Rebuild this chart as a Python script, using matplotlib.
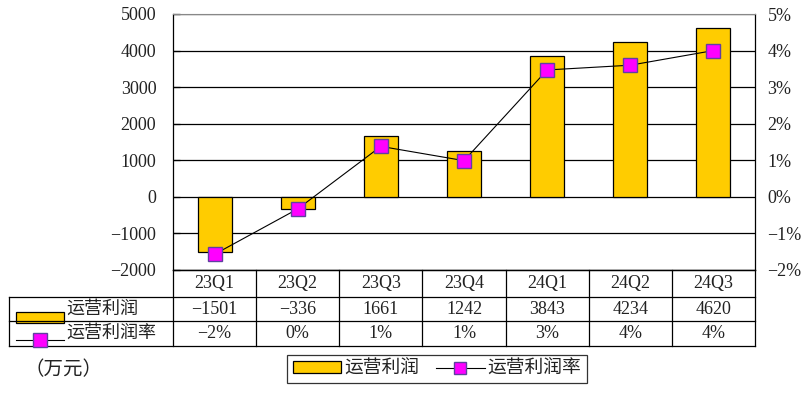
import matplotlib
matplotlib.use("Agg")
import matplotlib.pyplot as plt
from matplotlib.lines import Line2D
from matplotlib.patches import Rectangle
from matplotlib.ticker import FuncFormatter, MultipleLocator
import numpy as np

plt.rcParams['font.family'] = ['Liberation Serif', 'Noto Sans CJK SC', 'DejaVu Sans']

categories = ['23Q1', '23Q2', '23Q3', '23Q4', '24Q1', '24Q2', '24Q3']
profit = [-1501, -336, 1661, 1242, 3843, 4234, 4620]          # 万元
margin = [-1.57, -0.33, 1.38, 0.99, 3.47, 3.60, 4.00]          # %
series_names = ['运营利润', '运营利润率']
unit_label = '（万元）'

W, H = 811, 394
fig = plt.figure(figsize=(W / 100, H / 100), dpi=100)

def fx(px):
    return px / W

def fy(py):
    return 1 - py / H

L, R, T, B = 173, 755, 14, 270
ax = fig.add_axes([fx(L), fy(B), fx(R) - fx(L), fy(T) - fy(B)])
x = np.arange(len(categories))
bar_col = '#FFCC00'
mk_face = '#FF00FF'
mk_edge = '#6040A0'
ax.bar(x, profit, width=0.41, color=bar_col, edgecolor='black', linewidth=0.9, zorder=3)
ax.set_xlim(-0.5, len(categories) - 0.5)
ax.set_ylim(-2000, 5000)
ax.yaxis.set_major_locator(MultipleLocator(1000))
ax.yaxis.set_major_formatter(FuncFormatter(lambda v, p: f'{int(v)}'.replace('-', '\u2212')))
ax.grid(axis='y', color='black', linewidth=0.9, zorder=0)
ax.set_xticks([])
fs = 13
tc = '#222222'
ax.tick_params(axis='y', direction='in', length=5, width=0.9, pad=12, labelsize=fs, labelcolor=tc)
for s in ['left', 'right', 'bottom']:
    ax.spines[s].set_color('black')
    ax.spines[s].set_linewidth(0.9)
ax.spines['top'].set_color('#888888')

ax2 = ax.twinx()
ax2.plot(x, margin, color='black', linewidth=0.8, marker='s', markersize=10,
         markerfacecolor=mk_face, markeredgecolor=mk_edge, markeredgewidth=1.0, zorder=5)
ax2.set_ylim(-2, 5)
ax2.yaxis.set_major_locator(MultipleLocator(1))
ax2.yaxis.set_major_formatter(FuncFormatter(lambda v, p: f'{int(round(v))}%'.replace('-', '\u2212')))
ax2.tick_params(axis='y', length=0, pad=9, labelsize=fs, labelcolor=tc)
for s in ax2.spines.values():
    s.set_visible(False)

# ---- data table below the plot ----
rows_y = [270, 297, 321, 346]
TL = 9
lw = 0.9
def hline(x0, x1, y):
    fig.add_artist(Line2D([fx(x0), fx(x1)], [fy(y), fy(y)], color='black', linewidth=lw))
def vline(xp, y0, y1):
    fig.add_artist(Line2D([fx(xp), fx(xp)], [fy(y0), fy(y1)], color='black', linewidth=lw))

hline(L, R, rows_y[0])
hline(TL, R, rows_y[1])
hline(TL, R, rows_y[2])
hline(TL, R, rows_y[3])
vline(TL, rows_y[1], rows_y[3])
bounds = [L + (R - L) * i / len(categories) for i in range(len(categories) + 1)]
for b in bounds:
    vline(b, rows_y[0], rows_y[3])

centers = [(bounds[i] + bounds[i + 1]) / 2 for i in range(len(categories))]
for i, c in enumerate(categories):
    fig.text(fx(centers[i]), fy((rows_y[0] + rows_y[1]) / 2), c, ha='center', va='center', fontsize=fs, color=tc)
    fig.text(fx(centers[i]), fy((rows_y[1] + rows_y[2]) / 2), f'{profit[i]}'.replace('-', '\u2212'),
             ha='center', va='center', fontsize=fs, color=tc)
    fig.text(fx(centers[i]), fy((rows_y[2] + rows_y[3]) / 2), f'{int(round(margin[i]))}%'.replace('-', '\u2212'),
             ha='center', va='center', fontsize=fs, color=tc)

# row legend keys
fig.add_artist(Rectangle((fx(16), fy(323)), fx(64) - fx(16), fy(312) - fy(323),
                         facecolor=bar_col, edgecolor='black', linewidth=0.9))
fig.add_artist(Line2D([fx(16), fx(64)], [fy(340), fy(340)], color='black', linewidth=0.8))
fig.add_artist(Line2D([fx(40)], [fy(340)], marker='s', markersize=10, markerfacecolor=mk_face,
                      markeredgecolor=mk_edge, markeredgewidth=1.0))
fig.text(fx(66), fy((rows_y[1] + rows_y[2]) / 2), series_names[0], ha='left', va='center', fontsize=fs, color=tc)
fig.text(fx(66), fy((rows_y[2] + rows_y[3]) / 2), series_names[1], ha='left', va='center', fontsize=fs, color=tc)

fig.text(fx(24), fy(370), unit_label, ha='left', va='center', fontsize=14, color=tc)

handles = [Rectangle((0, 0), 1, 1, facecolor=bar_col, edgecolor='black', linewidth=0.9),
           Line2D([], [], color='black', linewidth=0.8, marker='s', markersize=9,
                  markerfacecolor=mk_face, markeredgecolor=mk_edge)]
leg = fig.legend(handles, series_names, loc='upper left', bbox_to_anchor=(fx(287), fy(355)),
                 ncol=2, fontsize=13.5, frameon=True, fancybox=False, edgecolor='black',
                 handlelength=2.6, handleheight=0.6, handletextpad=0.15, columnspacing=0.9,
                 borderpad=0.3, borderaxespad=0)
leg.get_frame().set_linewidth(0.9)
for t in leg.get_texts():
    t.set_color(tc)

fig.savefig('out.png', dpi=100)
